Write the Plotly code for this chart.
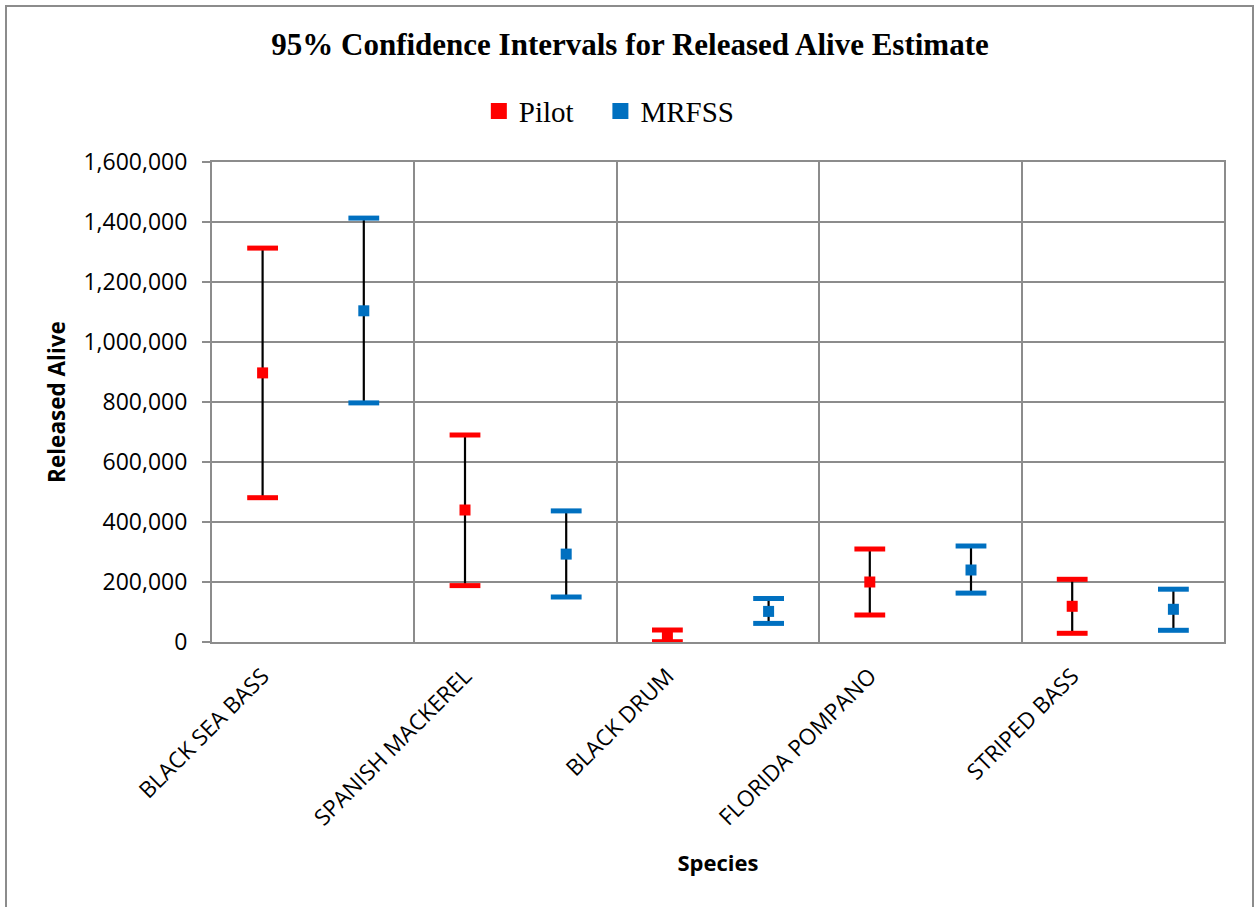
import plotly.graph_objects as go

species = ["BLACK SEA BASS", "SPANISH MACKEREL", "BLACK DRUM", "FLORIDA POMPANO", "STRIPED BASS"]
pilot_est = [897000, 440000, 19000, 200000, 119000]
pilot_low = [481000, 188000, 1000, 90000, 29000]
pilot_high = [1313000, 690000, 40000, 310000, 209000]
mrfss_est = [1104000, 293000, 102000, 240000, 109000]
mrfss_low = [797000, 150000, 62000, 163000, 39000]
mrfss_high = [1413000, 437000, 145000, 320000, 176000]

RED = "#ff0000"
BLUE = "#0070c0"
GRID = "#8c8c8c"

pilot_x = [2 * i for i in range(len(species))]
mrfss_x = [2 * i + 1 for i in range(len(species))]

fig = go.Figure()

# vertical black range lines
lx, ly = [], []
for xs, lo, hi in ((pilot_x, pilot_low, pilot_high), (mrfss_x, mrfss_low, mrfss_high)):
    for x, a, b in zip(xs, lo, hi):
        lx += [x, x, None]
        ly += [a, b, None]
fig.add_trace(go.Scatter(x=lx, y=ly, mode="lines", line=dict(color="black", width=2.2),
                         showlegend=False, hoverinfo="skip"))

for xs, est, lo, hi, col, name in ((pilot_x, pilot_est, pilot_low, pilot_high, RED, "Pilot"),
                                   (mrfss_x, mrfss_est, mrfss_low, mrfss_high, BLUE, "MRFSS")):
    fig.add_trace(go.Scatter(x=xs + xs, y=lo + hi, mode="markers",
                             marker=dict(symbol="line-ew", size=22, line=dict(color=col, width=5)),
                             showlegend=False, hoverinfo="skip"))
    fig.add_trace(go.Scatter(x=xs, y=est, mode="markers",
                             marker=dict(symbol="square", size=11, color=col),
                             showlegend=False, name=name))
    fig.add_trace(go.Scatter(x=[None], y=[None], mode="markers", name=name + "   ",
                             marker=dict(symbol="square", size=16, color=col)))

fig.update_layout(
    width=1256, height=907,
    paper_bgcolor="white", plot_bgcolor="white",
    margin=dict(l=212, r=32, t=162, b=265),
    title=dict(text="<b>95% Confidence Intervals for Released Alive Estimate</b>",
               x=0.5016, xanchor="center", y=0.951, yanchor="middle",
               font=dict(family="Liberation Serif", size=31, color="black")),
    legend=dict(orientation="h", x=0.403, xanchor="center", y=1.106, yanchor="middle",
                font=dict(family="Liberation Serif", size=29, color="black"),
                itemwidth=30, tracegroupgap=0, bgcolor="rgba(0,0,0,0)"),
    showlegend=True,
)

fig.update_xaxes(
    range=[-0.5, 9.5],
    tickmode="array", tickvals=pilot_x, ticktext=species, tickangle=-45,
    tickfont=dict(family="Open Sans", size=22.5, color="black"),
    showgrid=False, ticks="", zeroline=False,
    showline=True, linecolor=GRID, linewidth=2, mirror=True,
    ticklabelstandoff=10,
    minor=dict(tickmode="linear", tick0=-0.5, dtick=2, showgrid=True,
               gridcolor=GRID, gridwidth=2, ticks=""),
    title=dict(text="<b>Species</b>", font=dict(family="Open Sans", size=22, color="black"),
               standoff=25),
)
fig.update_yaxes(
    range=[0, 1600000], dtick=200000, tickformat=",",
    tickfont=dict(family="Open Sans", size=23, color="black"),
    showgrid=True, gridcolor=GRID, gridwidth=2, zeroline=False,
    ticks="outside", ticklen=8, tickcolor=GRID, tickwidth=2,
    showline=True, linecolor=GRID, linewidth=2, mirror=True,
    ticklabelstandoff=10,
    title=dict(text="<b>Released Alive</b>", font=dict(family="Open Sans", size=22.5, color="black"),
               standoff=12),
)

# outer chart border
fig.add_shape(type="rect", xref="paper", yref="paper",
              x0=(6 - 212) / 1012, x1=(1253 - 212) / 1012,
              y0=(642 - 915) / 480, y1=(642 - 6) / 480,
              line=dict(color=GRID, width=2), fillcolor="rgba(0,0,0,0)", layer="below")

fig.write_html("out.html", config={"displayModeBar": False},
               post_script="document.body.style.margin='0';")
